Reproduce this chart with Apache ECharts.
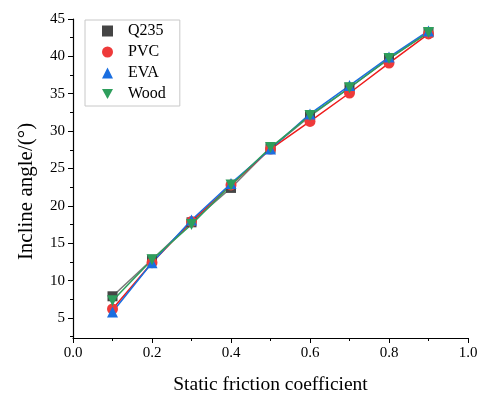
<!DOCTYPE html>
<html><head><meta charset="utf-8">
<script src="https://cdn.jsdelivr.net/npm/echarts@6/dist/echarts.min.js"></script>
<style>html,body{margin:0;padding:0;background:#fff}#c{width:477px;height:394px}</style>
</head><body><div id="c"></div>
<script>
const xValues = [0.1, 0.2, 0.3, 0.4, 0.5, 0.6, 0.7, 0.8, 0.9];
const q235 = [7.9, 12.8, 17.8, 22.4, 27.7, 32.0, 35.8, 39.7, 43.2];
const pvc  = [6.2, 12.4, 17.9, 22.8, 27.6, 31.3, 35.1, 39.1, 43.0];
const eva  = [5.8, 12.4, 18.1, 23.0, 27.6, 32.3, 36.1, 39.9, 43.4];
const wood = [7.3, 12.8, 17.5, 22.8, 27.8, 32.1, 35.8, 39.7, 43.2];
const yMajorTicks = [5, 10, 15, 20, 25, 30, 35, 40, 45];
const yMinorTicks = [2.5, 7.5, 12.5, 17.5, 22.5, 27.5, 32.5, 37.5, 42.5];
const seriesNames = ['Q235', 'PVC', 'EVA', 'Wood'];

const font = '"Liberation Serif","Times New Roman",serif';
const downTri = 'path://M0,0 L10,0 L5,9 Z';
const pair = arr => xValues.map((x, i) => [x, arr[i]]);

function mk(name, data, symbol, mcolor, lcolor, size) {
  return {
    name, type: 'line', data: pair(data), symbol, symbolSize: size,
    itemStyle: { color: mcolor },
    lineStyle: { color: lcolor, width: 1.5 },
    xAxisIndex: 0, yAxisIndex: 0, z: 3
  };
}

const chart = echarts.init(document.getElementById('c'));
chart.setOption({
  animation: false,
  backgroundColor: '#fff',
  grid: { left: 73, right: 9, top: 19, bottom: 56, containLabel: false, outerBoundsMode: 'none' },
  xAxis: {
    type: 'value', min: 0, max: 1, interval: 0.2,
    name: 'Static friction coefficient', nameLocation: 'middle', nameGap: 37,
    nameTextStyle: { fontFamily: font, fontSize: 19.5, color: '#000' },
    axisLine: { show: true, onZero: false, lineStyle: { color: '#000', width: 1.2 } },
    axisTick: { show: true, inside: false, length: 5, lineStyle: { color: '#000' } },
    minorTick: { show: true, splitNumber: 2, length: 3, lineStyle: { color: '#000' } },
    axisLabel: { fontFamily: font, fontSize: 15, color: '#000', margin: 8,
      formatter: v => v.toFixed(1) },
    splitLine: { show: false }, minorSplitLine: { show: false }
  },
  yAxis: [{
    type: 'value', min: 2.32, max: 45,
    name: 'Incline angle/(°)', nameLocation: 'middle', nameGap: 36,
    nameTextStyle: { fontFamily: font, fontSize: 21, color: '#000', padding: [0, 26, 0, 0] },
    axisLine: { show: true, onZero: false, lineStyle: { color: '#000', width: 1.2 } },
    axisTick: { show: true, inside: false, length: 5, customValues: yMajorTicks, lineStyle: { color: '#000' } },
    axisLabel: { fontFamily: font, fontSize: 15, color: '#000', margin: 8, customValues: yMajorTicks },
    splitLine: { show: false }
  }, {
    type: 'value', min: 2.32, max: 45, position: 'left',
    axisLine: { show: false },
    axisTick: { show: true, inside: false, length: 3, customValues: yMinorTicks, lineStyle: { color: '#000' } },
    axisLabel: { show: false, customValues: yMinorTicks },
    splitLine: { show: false }
  }],
  legend: {
    orient: 'vertical', left: 85, top: 20,
    padding: [3, 14, 4, 17],
    borderColor: '#c8c8c8', borderWidth: 1,
    itemWidth: 11, itemHeight: 11, itemGap: 5,
    textStyle: { fontFamily: font, fontSize: 16, color: '#000', lineHeight: 16, padding: [0, 0, 0, 10] },
    data: [
      { name: 'Q235', icon: 'rect', itemStyle: { color: '#454545' } },
      { name: 'PVC', icon: 'circle' },
      { name: 'EVA', icon: 'triangle' },
      { name: 'Wood', icon: downTri }
    ]
  },
  series: [
    mk(seriesNames[0], q235, 'rect', '#454545', '#7a7a7a', 10),
    mk(seriesNames[1], pvc, 'circle', '#ee3a3a', '#ee1c1c', 11),
    mk(seriesNames[2], eva, 'triangle', '#1a6ee0', '#1a6ee0', 11),
    mk(seriesNames[3], wood, downTri, '#2e9e5c', '#2e9e5c', 11)
  ]
});
</script>
</body></html>
